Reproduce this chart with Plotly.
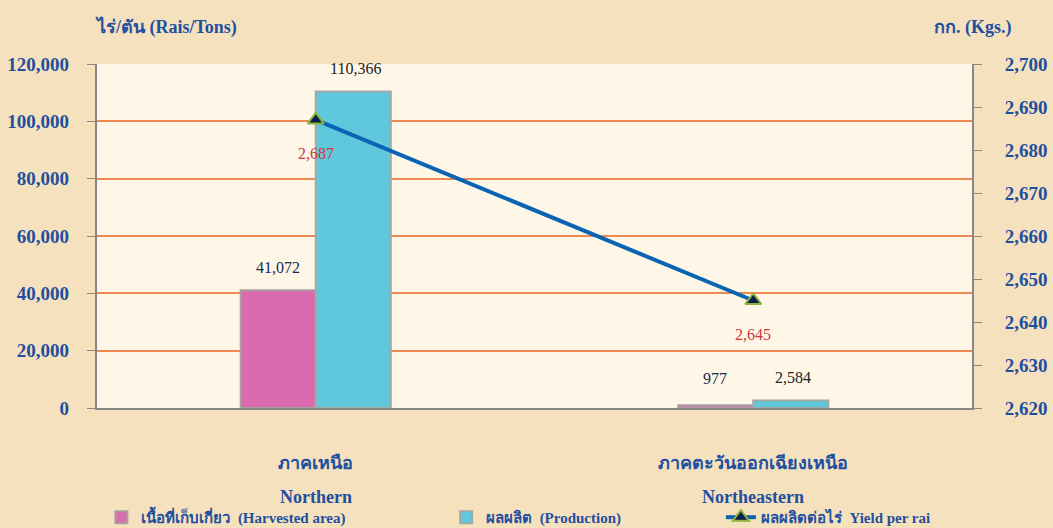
import plotly.graph_objects as go

categories = ["ภาคเหนือ", "ภาคตะวันออกเฉียงเหนือ"]
categories_en = ["Northern", "Northeastern"]
harvested = [41072, 977]
production = [110366, 2584]
yield_per_rai = [2687, 2645]

BLUE = "#1F4FA0"
SERIF = "Liberation Serif, Times New Roman, serif"
NB = "\u00a0"

fig = go.Figure()
fig.add_trace(go.Bar(
    x=categories, y=harvested, name="<b>เนื้อที่เก็บเกี่ยว  (Harvested area)</b>",
    marker=dict(color="#DC6AAF", line=dict(color="#A8A0A0", width=2)),
    offsetgroup="a", legend="legend",
))
fig.add_trace(go.Bar(
    x=categories, y=production, name="<b>ผลผลิต  (Production)</b>",
    marker=dict(color="#60C8DC", line=dict(color="#A0A8A8", width=2)),
    offsetgroup="b", legend="legend2",
))
fig.add_trace(go.Scatter(
    x=categories, y=yield_per_rai, name="<b>ผลผลิตต่อไร่  Yield per rai</b>", yaxis="y2",
    mode="lines+markers",
    line=dict(color="#0A64B4", width=4),
    marker=dict(symbol="triangle-up", size=14, color="#0A1F4A",
                line=dict(color="#8DB33A", width=2)),
    legend="legend3",
))

for i, c in enumerate(categories):
    fig.add_annotation(x=c, y=harvested[i], text=f"{harvested[i]:,}", showarrow=False,
                       xshift=-38, yshift=23 if i == 0 else 27,
                       font=dict(family=SERIF, size=16, color="#1A2A50"))
    fig.add_annotation(x=c, y=production[i], text=f"{production[i]:,}", showarrow=False,
                       xshift=40, yshift=23,
                       font=dict(family=SERIF, size=16, color="#222222"))
    fig.add_annotation(x=c, y=yield_per_rai[i], yref="y2", text=f"{yield_per_rai[i]:,}",
                       showarrow=False, yshift=-34,
                       font=dict(family=SERIF, size=16, color="#D03838"))
    fig.add_annotation(x=c, y=0, yref="paper", yanchor="middle", text=f"<b>{categories_en[i]}</b>",
                       showarrow=False, yshift=-89, font=dict(family=SERIF, size=18, color=BLUE))

fig.add_annotation(xref="paper", yref="paper", x=-0.005, y=1.0, yshift=37, xanchor="left",
                   yanchor="middle", text="<b>ไร่/ตัน (Rais/Tons)</b>", showarrow=False,
                   font=dict(family=SERIF, size=18, color=BLUE))
fig.add_annotation(xref="paper", yref="paper", x=1.0, y=1.0, yshift=37, xshift=-40, xanchor="left",
                   yanchor="middle", text="<b>กก. (Kgs.)</b>", showarrow=False,
                   font=dict(family=SERIF, size=18, color=BLUE))

legend_common = dict(orientation="h", yanchor="middle", xanchor="left", y=0.02, yref="container",
                     font=dict(family=SERIF, size=15, color=BLUE), bgcolor="rgba(0,0,0,0)")

fig.update_layout(
    width=1053, height=528,
    margin=dict(l=97, r=81, t=64, b=120),
    paper_bgcolor="#F5E1BD",
    plot_bgcolor="#FEF7E8",
    barmode="group",
    bargap=0.657, bargroupgap=0,
    showlegend=True,
    legend=dict(x=0.005, **legend_common),
    legend2=dict(x=0.399, **legend_common),
    legend3=dict(x=0.713, **legend_common),
    xaxis=dict(tickfont=dict(family=SERIF, size=18, color=BLUE),
               showline=True, linecolor="#888888", linewidth=2, automargin=False,
               ticklabelstandoff=37, ticks="", tickprefix="<b>", ticksuffix="</b>"),
    yaxis=dict(range=[0, 120000], dtick=20000, tickformat=",",
               tickfont=dict(family=SERIF, size=19, color=BLUE),
               showgrid=True, gridcolor="#EE8A50", gridwidth=1.5,
               showline=True, linecolor="#888888", linewidth=2, automargin=False,
               ticks="outside", ticklen=8, tickcolor="#888888", zeroline=False,
               tickprefix="<b>", ticksuffix="</b>" + NB * 3),
    yaxis2=dict(range=[2620, 2700], dtick=10, tickformat=",", overlaying="y", side="right",
                tickfont=dict(family=SERIF, size=19, color=BLUE), automargin=False,
                showgrid=False, showline=True, linecolor="#888888", linewidth=2,
                ticks="outside", ticklen=8, tickcolor="#888888",
                tickprefix=NB * 4 + "<b>", ticksuffix="</b>"),
)

post = ("document.documentElement.style.margin='0';document.body.style.margin='0';"
        "document.body.style.overflow='hidden';document.body.style.background='#F5E1BD';")
fig.write_html("out.html", post_script=post, config={"displayModeBar": False})
